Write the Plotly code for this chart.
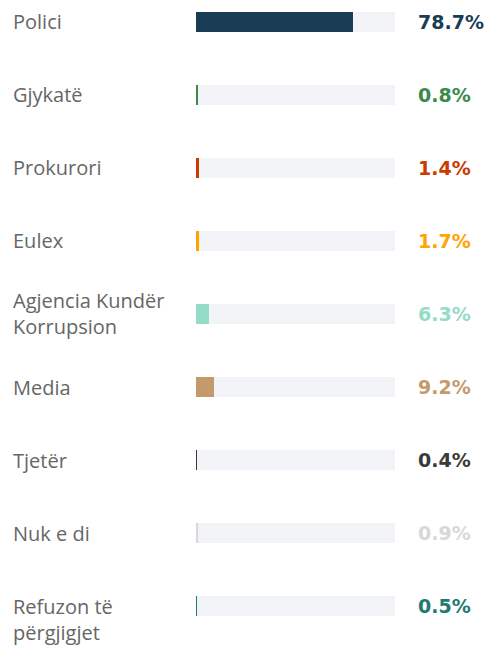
import plotly.graph_objects as go

categories = ["Polici", "Gjykatë", "Prokurori", "Eulex", "Agjencia Kundër<br>Korrupsion",
              "Media", "Tjetër", "Nuk e di", "Refuzon të<br>përgjigjet"]
values = [78.7, 0.8, 1.4, 1.7, 6.3, 9.2, 0.4, 0.9, 0.5]
colors = ["#1a3d55", "#3a8a4a", "#c83c00", "#ffa400", "#94dcc8",
          "#c49a6c", "#3a3a3a", "#d8d8d8", "#1f7a70"]
label_shift = [0, 0, 0, 0, 0, 0, 0, 0, -13]

idx = list(range(len(categories)))
W, H = 489, 645
L, R = 196, 94

fig = go.Figure()
fig.add_trace(go.Bar(y=idx, x=[100] * len(idx), orientation="h", width=0.274,
                     marker=dict(color="#f2f3f7", line=dict(width=0)),
                     hoverinfo="skip", showlegend=False))
fig.add_trace(go.Bar(y=idx, x=values, orientation="h", width=0.274,
                     marker=dict(color=colors, line=dict(width=0)),
                     showlegend=False))

pw = W - L - R
for i, (c, v, col, s) in enumerate(zip(categories, values, colors, label_shift)):
    fig.add_annotation(xref="paper", yref="y", x=(11 - L) / pw, y=i, text=c,
                       xanchor="left", yanchor="middle", align="left", showarrow=False,
                       yshift=s,
                       font=dict(family="Open Sans", size=20, color="#666666"))
    fig.add_annotation(xref="paper", yref="y", x=(416 - L) / pw, y=i,
                       text=f"<b>{v:.1f}%</b>", xanchor="left", yanchor="middle",
                       showarrow=False,
                       font=dict(family="DejaVu Sans", size=19, color=col))

fig.update_layout(
    width=W, height=H, margin=dict(l=L, r=R, t=0, b=0, autoexpand=False),
    paper_bgcolor="white", plot_bgcolor="white",
    barmode="overlay", bargap=0,
    xaxis=dict(range=[0, 100], visible=False, fixedrange=True),
    yaxis=dict(range=[8.534, -0.301], visible=False, fixedrange=True),
)
fig.write_html("out.html", config={"displayModeBar": False},
               post_script="document.body.style.margin='0';")
